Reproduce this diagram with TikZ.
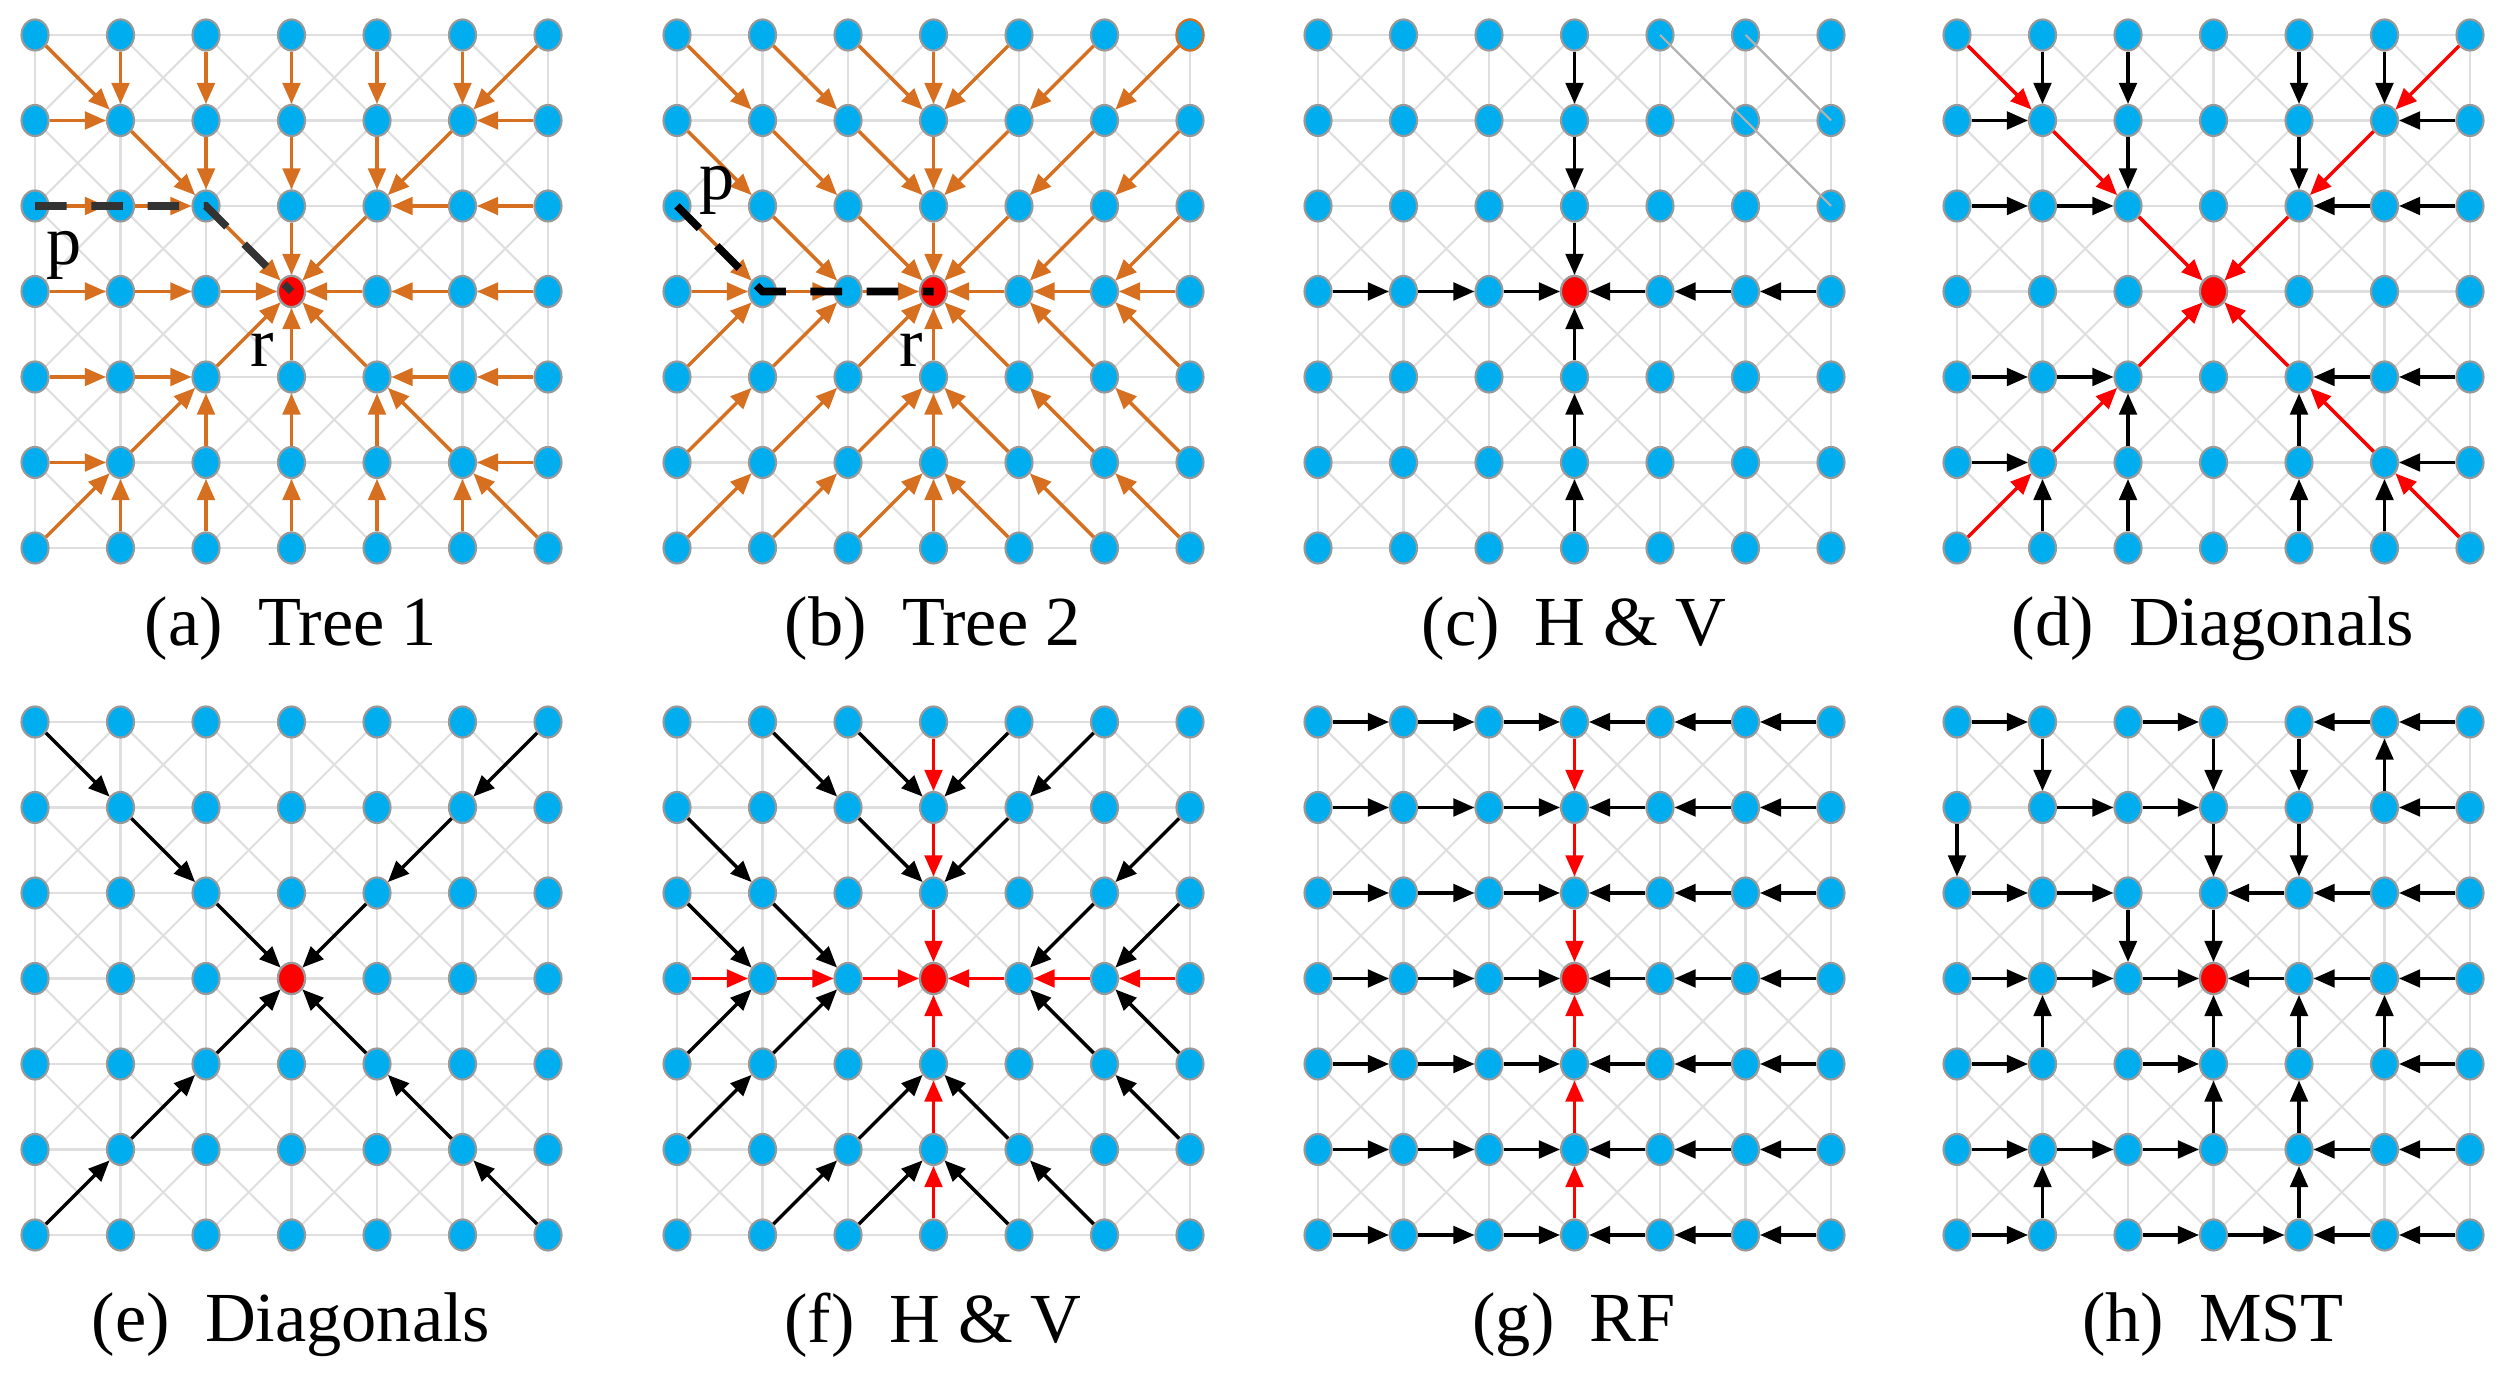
\documentclass[tikz,border=0pt]{standalone}
\usepackage{fontspec}
\setmainfont{Liberation Serif}
\usetikzlibrary{shapes.geometric,arrows.meta,backgrounds}
\definecolor{nb}{RGB}{0,174,239}
\definecolor{orr}{RGB}{214,112,32}
\tikzset{
 v/.style={ellipse,fill=nb,draw=gray!80,line width=0.6pt,minimum width=0.27cm,minimum height=0.31cm,inner sep=0pt},
 rt/.style={v,fill=red},
 gl/.style={gray!25,line width=0.6pt},
 tip/.style={-{Triangle[length=6pt,width=5pt]}},
 oa/.style={orr,line width=1pt,tip},
 ba/.style={black,line width=1pt,tip},
 ra/.style={red,line width=1pt,tip},
 pp/.style={black!80,line width=2.2pt,dash pattern=on 9pt off 7pt},
 captxt/.style={font=\fontsize{20}{24}\selectfont},
 lab/.style={font=\fontsize{20}{24}\selectfont}
}
\newcommand\mygrid[3]{%
 \foreach \c in {0,...,6}{\foreach \r in {0,...,6}{
   \node[v] (#1\c\r) at ({#2+\c*85.5},{#3+\r*85.5}) {};}}
 \node[rt] (#1root) at (#133) {};
 \begin{pgfonlayer}{background}
 \foreach \c in {0,...,6}{\foreach \r [evaluate=\r as \rn using int(\r+1)] in {0,...,5}{
   \draw[gl] (#1\c\r.center)--(#1\c\rn.center);
   \draw[gl] (#1\r\c.center)--(#1\rn\c.center);}}
 \foreach \c [evaluate=\c as \cn using int(\c+1)] in {0,...,5}{\foreach \r [evaluate=\r as \rn using int(\r+1)] in {0,...,5}{
   \draw[gl] (#1\c\r.center)--(#1\cn\rn.center);
   \draw[gl] (#1\cn\r.center)--(#1\c\rn.center);}}
 \end{pgfonlayer}}
\newcommand\arrs[3]{\foreach \s/\t in {#3} \draw[#2] (#1\s) -- (#1\t);}
\begin{document}
\begin{tikzpicture}[x=0.01cm,y=-0.01cm]
\useasboundingbox (0,0) rectangle (2502,1374);
\mygrid{a}{35}{35}
\mygrid{b}{677}{35}
\mygrid{c}{1318}{35}
\mygrid{d}{1957}{35}
\mygrid{e}{35}{722}
\mygrid{f}{677}{722}
\mygrid{g}{1318}{722}
\mygrid{h}{1957}{722}
% (a)
\arrs{a}{oa}{00/11,10/11,20/21,30/31,40/41,50/51,60/51,
01/11,11/22,21/22,31/32,41/42,51/42,61/51,
02/12,12/22,22/33,32/33,42/33,62/52,52/42,
03/13,13/23,23/33,63/53,53/43,43/33,
04/14,14/24,24/33,34/33,44/33,64/54,54/44,
05/15,15/24,25/24,35/34,45/44,55/44,65/55,
06/15,16/15,26/25,36/35,46/45,56/55,66/55}
\draw[pp] (a02.center) -- (a22.center) -- (a33.center);
\node[lab] (pa) at (64,255) {p};
\node[lab] (ra) at (262,350) {r};
% (b)
\node[v,draw=orr] (b60x) at (b60) {};
\arrs{b}{oa}{00/11,10/21,20/31,30/31,40/31,50/41,60/51,
01/12,11/22,21/32,31/32,41/32,51/42,61/52,
02/13,12/23,22/33,32/33,42/33,52/43,62/53,
03/13,13/23,23/33,63/53,53/43,43/33,
04/13,14/23,24/33,34/33,44/33,54/43,64/53,
05/14,15/24,25/34,35/34,45/34,55/44,65/54,
06/15,16/25,26/35,36/35,46/35,56/45,66/55}
\draw[pp,black] (b02.center) -- (b13.center) -- (b33.center);
\node[lab] (pb) at (717,190) {p};
\node[lab] (rb) at (911,350) {r};
% (c)
\draw[gray!60,line width=0.6pt] (c40.center) -- (c62.center);
\draw[gray!60,line width=0.6pt] (c50.center) -- (c61.center);
\arrs{c}{ba}{30/31,31/32,32/33,36/35,35/34,34/33,03/13,13/23,23/33,63/53,53/43,43/33}
% (d)
\arrs{d}{ra}{00/11,11/22,22/33,60/51,51/42,42/33,06/15,15/24,24/33,66/55,55/44,44/33}
\arrs{d}{ba}{10/11,20/21,21/22,40/41,41/42,50/51,01/11,61/51,02/12,12/22,62/52,52/42,04/14,14/24,64/54,54/44,05/15,65/55,16/15,26/25,25/24,46/45,45/44,56/55}
% (e)
\arrs{e}{ba}{00/11,11/22,22/33,60/51,51/42,42/33,06/15,15/24,24/33,66/55,55/44,44/33}
% (f)
\arrs{f}{ra}{30/31,31/32,32/33,36/35,35/34,34/33,03/13,13/23,23/33,63/53,53/43,43/33}
\arrs{f}{ba}{10/21,20/31,40/31,50/41,01/12,21/32,41/32,61/52,02/13,12/23,52/43,62/53,04/13,14/23,54/43,64/53,05/14,25/34,45/34,65/54,16/25,26/35,46/35,56/45}
% (g)
\foreach \r in {0,...,6}{\arrs{g}{ba}{0\r/1\r,1\r/2\r,2\r/3\r,6\r/5\r,5\r/4\r,4\r/3\r}}
\arrs{g}{ra}{30/31,31/32,32/33,36/35,35/34,34/33}
% (h)
\arrs{h}{ba}{00/10,20/30,60/50,50/40,10/11,30/31,40/41,51/50,
11/21,21/31,61/51,01/02,31/32,41/42,
02/12,12/22,42/32,62/52,52/42,22/23,32/33,
03/13,13/23,23/33,63/53,53/43,43/33,
04/14,24/34,64/54,14/13,34/33,44/43,54/53,
05/15,15/25,25/35,65/55,55/45,35/34,45/44,
06/16,26/36,36/46,66/56,56/46,16/15,46/45}
% captions
\node[captxt] (ca) at (291,629) {(a)\enspace Tree 1};
\node[captxt] (cb) at (933,629) {(b)\enspace Tree 2};
\node[captxt] (cc) at (1574,629) {(c)\enspace H \& V};
\node[captxt] (cd) at (2213,629) {(d)\enspace Diagonals};
\node[captxt] (ce) at (291,1325) {(e)\enspace Diagonals};
\node[captxt] (cf) at (933,1325) {(f)\enspace H \& V};
\node[captxt] (cg) at (1574,1325) {(g)\enspace RF};
\node[captxt] (ch) at (2213,1325) {(h)\enspace MST};
\end{tikzpicture}
\end{document}
